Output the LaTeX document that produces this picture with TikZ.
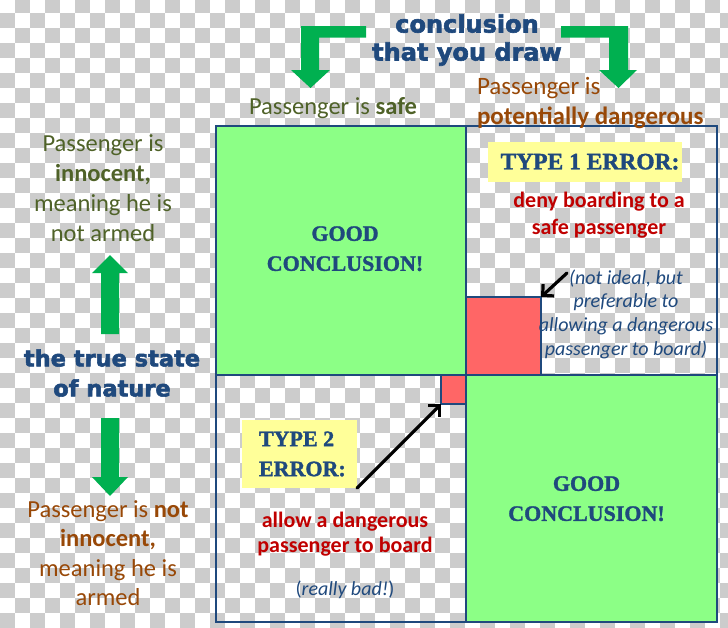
\documentclass[tikz,border=0pt]{standalone}
\usepackage{fontspec}
\setmainfont{Carlito}
\newfontfamily\heavyfont{DejaVu Sans}[BoldFeatures={FakeBold=2.5}]
\newfontfamily\stencilfont{Liberation Serif}[BoldFeatures={FakeBold=1.5}]
\usetikzlibrary{arrows.meta}
\definecolor{navy}{HTML}{1F497D}
\definecolor{olive}{HTML}{4F6228}
\definecolor{brownish}{HTML}{984807}
\definecolor{darkred}{HTML}{C00000}
\definecolor{agreen}{HTML}{00B050}
\definecolor{lgreen}{HTML}{8CFF86}
\definecolor{lred}{HTML}{FF6666}
\definecolor{lyellow}{HTML}{FFFF99}
\definecolor{checkgray}{HTML}{CCCCCC}
\tikzset{
  every node/.style={inner sep=0pt, outer sep=0pt},
  frameline/.style={draw=navy, line width=2.3pt},
  goodsq/.style={frameline, fill=lgreen, rectangle},
  badsq/.style={frameline, fill=lred, rectangle},
  yellowbox/.style={fill=lyellow, rectangle},
  bigarrow/.style={fill=agreen},
  pointer/.style={draw=black, line width=3.2pt, line cap=round, -{Straight Barb[length=8pt,width=16pt]}},
  stenciltext/.style={text=navy, font=\stencilfont\bfseries\fontsize{22}{30}\selectfont, align=center},
  heavytext/.style={text=navy, font=\heavyfont\bfseries\fontsize{24}{28}\selectfont, align=center},
  calibtext/.style={font=\fontsize{24.5}{30}\selectfont, align=center},
}
\begin{document}
\begin{tikzpicture}[x=1pt, y=-1pt]
\useasboundingbox (0,0) rectangle (728,627);
% checkerboard background
\begin{scope}
\clip (0,0) rectangle (728,627);
\foreach \i in {0,...,48}{\foreach \j in {0,...,42}{%
  \pgfmathtruncatemacro\odd{mod(\i+\j,2)}%
  \ifnum\odd=1 \fill[checkgray] ({\i*15},{\j*15-1.7}) rectangle ++(15,15);\fi}}
\end{scope}

% grid
\node[frameline, rectangle, minimum width=501pt, minimum height=496pt] (frame) at (466.5,374) {};
\node[goodsq, minimum width=250pt, minimum height=249pt] (g1) at (341,250.5) {};
\node[goodsq, minimum width=251pt, minimum height=247pt] (g2) at (591.5,498.5) {};
\node[badsq, minimum width=75pt, minimum height=78pt] (r1) at (503.5,336) {};
\node[badsq, minimum width=25pt, minimum height=29pt] (r2) at (453.5,389.5) {};
\node[yellowbox, minimum width=194pt, minimum height=40pt] (y1) at (585,162) {};
\node[yellowbox, minimum width=115pt, minimum height=68pt] (y2) at (299.5,454) {};

% green arrows
\fill[bigarrow] (366,26) -- (301,26) -- (301,70) -- (291,70) -- (310.5,88) -- (330,70) -- (319,70) -- (319,37.7) -- (366,37.7) -- cycle;
\fill[bigarrow] (561,26) -- (628,26) -- (628,70) -- (637,70) -- (618.5,88) -- (599,70) -- (609,70) -- (609,37.7) -- (561,37.7) -- cycle;
\fill[bigarrow] (110,255) -- (128,273) -- (119,273) -- (119,334) -- (101,334) -- (101,273) -- (92,273) -- cycle;
\fill[bigarrow] (101,418) -- (119,418) -- (119,477) -- (128,477) -- (110,496) -- (92,477) -- (101,477) -- cycle;

% texts
\node[heavytext] (tconc) at (467,40) {conclusion\\that you draw};
\node[calibtext, text=olive] (tsafe) at (333,108.4) {Passenger is \textbf{safe}};
\node[calibtext, text=brownish, align=left, anchor=west, font=\fontsize{25}{30}\selectfont] (tdang) at (477,103) {Passenger is\\\textbf{potentially dangerous}};
\node[calibtext, text=olive] (tinn) at (103,188.5) {Passenger is\\\textbf{innocent,}\\meaning he is\\not armed};
\node[heavytext, font=\heavyfont\bfseries\fontsize{22.5}{30}\selectfont] (ttrue) at (112,373) {the true state\\of nature};
\node[calibtext, text=brownish, font=\fontsize{24.5}{29.5}\selectfont] (tnotinn) at (108,553) {Passenger is \textbf{not}\\\textbf{innocent,}\\meaning he is\\armed};

\node[stenciltext, font=\stencilfont\bfseries\fontsize{23.5}{30}\selectfont] (ttype1) at (590,161.7) {TYPE 1 ERROR:};
\node[calibtext, text=darkred, font=\bfseries\fontsize{22}{26.7}\selectfont] (tdeny) at (599,215) {deny boarding to a\\safe passenger};
\node[calibtext, text=navy, font=\itshape\fontsize{20}{23.7}\selectfont] (tideal) at (626,314) {(not ideal, but\\preferable to\\allowing a dangerous\\passenger to board)};
\node[stenciltext] (tgood1) at (345,248.7) {GOOD\\CONCLUSION!};
\node[stenciltext] (tgood2) at (586.5,498.7) {GOOD\\CONCLUSION!};
\node[stenciltext, align=left, anchor=west] (ttype2) at (259,454) {TYPE 2\\ERROR:};
\node[calibtext, text=darkred, font=\bfseries\fontsize{22}{25}\selectfont] (tallow) at (345,534) {allow a dangerous\\passenger to board};
\node[calibtext, text=navy, font=\fontsize{20}{24}\selectfont] (tbad) at (345,590) {(\textit{really bad!})};

% pointers
\coordinate (c1) at (567,273);
\draw[pointer] (c1) -- (r1.north east);
\draw[pointer] (y2.south east) -- (r2.south west);
\end{tikzpicture}
\end{document}
